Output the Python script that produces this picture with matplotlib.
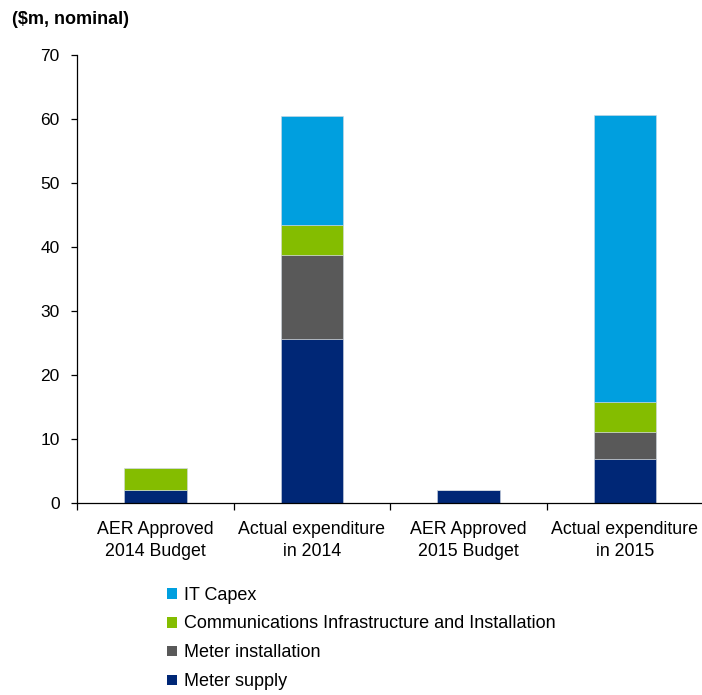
import matplotlib.pyplot as plt
import numpy as np
from matplotlib.patches import Patch

plt.rcParams['font.family'] = ['Liberation Sans', 'DejaVu Sans']

# Smart meter expenditure, $m nominal
categories = ['AER Approved\n2014 Budget', 'Actual expenditure\nin 2014',
              'AER Approved\n2015 Budget', 'Actual expenditure\nin 2015']
meter_supply = [2.1, 25.6, 2.0, 6.8]
meter_installation = [0.0, 13.2, 0.0, 4.3]
comms_infra = [3.4, 4.6, 0.0, 4.6]
it_capex = [0.0, 17.1, 0.0, 44.9]

series = [
    ('Meter supply', meter_supply, '#002776'),
    ('Meter installation', meter_installation, '#595959'),
    ('Communications Infrastructure and Installation', comms_infra, '#84BD00'),
    ('IT Capex', it_capex, '#009FDF'),
]

fig = plt.figure(figsize=(7.02, 6.95), dpi=100)
ax = fig.add_axes([0.1097, 0.2763, 0.892, 0.6446])

x = np.arange(len(categories))
bottom = np.zeros(len(categories))
for name, vals, color in series:
    vals = np.array(vals)
    ax.bar(x, vals, 0.4, bottom=bottom, color=color, edgecolor='#d0d8e0',
           linewidth=0.4, label=name)
    bottom += vals

ax.set_xlim(-0.5, 3.5)
ax.set_ylim(0, 70)
ax.set_yticks(range(0, 71, 10))
ax.set_xticks(x)
ax.set_xticklabels(categories, linespacing=1.35)
ax.set_xticks([-0.5, 0.5, 1.5, 2.5], minor=True)

for side in ['top', 'right']:
    ax.spines[side].set_visible(False)
for side in ['left', 'bottom']:
    ax.spines[side].set_linewidth(0.9)

ax.tick_params(axis='y', labelsize=12.5, length=4.5, width=0.9, pad=8)
ax.tick_params(axis='x', which='major', labelsize=12.8, length=0, pad=13)
ax.tick_params(axis='x', which='minor', length=5, width=0.9)

fig.text(0.017, 0.972, '($m, nominal)', fontsize=13, fontweight='bold',
         va='center', ha='left')

handles = [Patch(facecolor=c, label=n) for n, _, c in reversed(series)]
fig.legend(handles=handles, loc='upper left', bbox_to_anchor=(0.238, 0.156),
           frameon=False, fontsize=13, handlelength=0.55, handleheight=0.55,
           handletextpad=0.4, labelspacing=0.66, borderpad=0, borderaxespad=0)

fig.savefig('out.png', dpi=100)
